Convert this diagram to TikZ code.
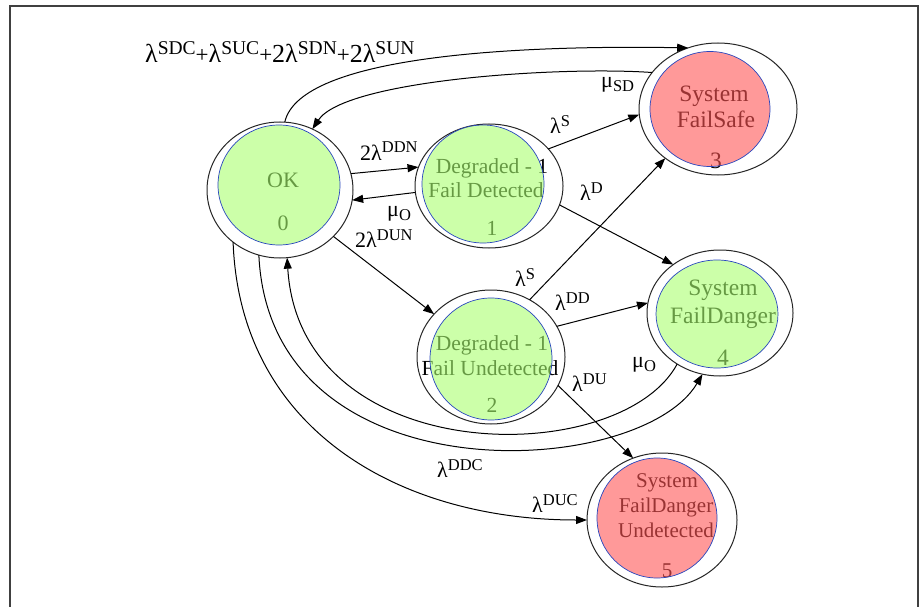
\documentclass[tikz,border=0pt]{standalone}
\usepackage{fontspec}
\setmainfont{Liberation Serif}
\usetikzlibrary{shapes.geometric,arrows.meta}
\definecolor{gfill}{RGB}{170,255,113}
\definecolor{rfill}{RGB}{255,85,85}
\definecolor{ringblue}{RGB}{40,70,190}
\newcommand{\fs}[1]{\fontsize{#1}{#1}\selectfont}
\newcommand{\tb}[1]{{\fs{26}#1}}
\newcommand{\ts}[1]{\raisebox{8pt}{\fs{19.5}#1}}
\newcommand{\tp}{{\fs{23}+}}
\newcommand{\lb}[1]{{\fs{22}#1}}
\newcommand{\ls}[1]{\raisebox{7pt}{\fs{16.5}#1}}
\newcommand{\lsub}[1]{\raisebox{-4pt}{\fs{16.5}#1}}
\begin{document}
\begin{tikzpicture}[x=1pt,y=-1pt,
  outer/.style={ellipse,draw=black!85,line width=1pt,fill=white,inner sep=0pt,outer sep=0pt},
  innerg/.style={ellipse,draw=ringblue,line width=0.7pt,fill=gfill,fill opacity=0.6,inner sep=0pt,outer sep=0pt},
  innerr/.style={ellipse,draw=ringblue,line width=0.7pt,fill=rfill,fill opacity=0.6,inner sep=0pt,outer sep=0pt},
  txt/.style={anchor=base,inner sep=0pt,text=black},
  lbl/.style={anchor=base west,inner sep=0pt,text=black},
  arr/.style={draw=black,line width=1pt,-{Triangle[length=11pt,width=8pt]}},
]
\useasboundingbox (0,0) rectangle (923,607);
\fill[white] (0,0) rectangle (923,607);
\draw[line width=1.6pt,black!75] (10,640) -- (10,6) -- (918,6) -- (918,640);

% node 0 : OK
\node[outer,minimum width=146pt,minimum height=136pt] (ok) at (280,190) {};
\node[txt,font=\fs{22}] (ok-t) at (283,187) {OK};
\node[txt,font=\fs{22}] (ok-n) at (283,230) {0};
\node[innerg,minimum width=122pt,minimum height=120pt] (ok-i) at (279,185) {};

% node 1
\node[outer,minimum width=148pt,minimum height=124pt] (n1) at (489,186) {};
\node[txt,font=\fs{21.5}] (n1-a) at (492,173) {Degraded - 1};
\node[txt,font=\fs{21.5}] (n1-b) at (486,197) {Fail Detected};
\node[txt,font=\fs{21.5}] (n1-n) at (492,235) {1};
\node[innerg,minimum width=122pt,minimum height=118pt] (n1-i) at (483,184) {};

% node 2
\node[outer,minimum width=148pt,minimum height=134pt] (n2) at (491,357) {};
\node[txt,font=\fs{21.5}] (n2-a) at (492,350) {Degraded - 1};
\node[txt,font=\fs{21.5}] (n2-b) at (490,375) {Fail Undetected};
\node[txt,font=\fs{21.5}] (n2-n) at (492,412) {2};
\node[innerg,minimum width=122pt,minimum height=122pt] (n2-i) at (491,359) {};

% node 3
\node[outer,minimum width=158pt,minimum height=132pt] (n3) at (718,109) {};
\node[txt,font=\fs{23.5}] (n3-a) at (714,102) {System};
\node[txt,font=\fs{23.5}] (n3-b) at (716,128) {FailSafe};
\node[txt,font=\fs{23.5}] (n3-n) at (716,168) {3};
\node[innerr,minimum width=120pt,minimum height=115pt] (n3-i) at (710,109) {};

% node 4
\node[outer,minimum width=146pt,minimum height=126pt] (n4) at (720,313) {};
\node[txt,font=\fs{23.5}] (n4-a) at (723,295) {System};
\node[txt,font=\fs{23.5}] (n4-b) at (723,323) {FailDanger};
\node[txt,font=\fs{23.5}] (n4-n) at (723,365) {4};
\node[innerg,minimum width=122pt,minimum height=108pt] (n4-i) at (717,314) {};

% node 5
\node[outer,minimum width=150pt,minimum height=134pt] (n5) at (662,520) {};
\node[txt,font=\fs{21}] (n5-a) at (667,487) {System};
\node[txt,font=\fs{21}] (n5-b) at (666,512) {FailDanger};
\node[txt,font=\fs{21}] (n5-c) at (666,537) {Undetected};
\node[txt,font=\fs{21}] (n5-n) at (667,577) {5};
\node[innerr,minimum width=120pt,minimum height=120pt] (n5-i) at (657,518) {};

% straight connectors
\draw[arr] (ok.13) -- (n1.165);
\draw[arr] (n1.185) -- (ok.-8);
\draw[arr] (ok.-41) -- (n2.143);
\draw[arr] (n1.32) -- (n3.184);
\draw[arr] (n1.-15) -- (n4.134);
\draw[arr] (n2.56) -- (n3.223);
\draw[arr] (n2.25) -- (n4.172);
\draw[arr] (n2.-23) -- (n5.115);

% curved connectors
\draw[arr] (ok.86) .. controls (300,55) and (520,45) .. (n3.116);
\draw[arr] (n3.151) .. controls (560,66) and (345,80) .. (ok.62);
\draw[arr] (n4.230) .. controls (620,470) and (300,470) .. (ok.-84);
\draw[arr] (ok.252) .. controls (270,500) and (640,480) .. (n4.254);
\draw[arr] (ok.228) .. controls (240,430) and (400,520) .. (n5.180);

% labels
\node[lbl] (l-top) at (145,63) {\tb{λ}\ts{SDC}\tp\tb{λ}\ts{SUC}\tp\tb{2λ}\ts{SDN}\tp\tb{2λ}\ts{SUN}};
\node[lbl] (l-musd) at (601,88) {\lb{μ}\lsub{SD}};
\node[lbl] (l-ddn) at (360,160) {\lb{2λ}\ls{DDN}};
\node[lbl] (l-mu1) at (387,216) {\lb{μ}\lsub{O}};
\node[lbl] (l-dun) at (355,247) {\lb{2λ}\ls{DUN}};
\node[lbl] (l-s1) at (550,134) {\lb{λ}\ls{S}};
\node[lbl] (l-d) at (580,200) {\lb{λ}\ls{D}};
\node[lbl] (l-s2) at (515,286) {\lb{λ}\ls{S}};
\node[lbl] (l-dd) at (555,310) {\lb{λ}\ls{DD}};
\node[lbl] (l-du) at (572,391) {\lb{λ}\ls{DU}};
\node[lbl] (l-mu4) at (632,367) {\lb{μ}\lsub{O}};
\node[lbl] (l-ddc) at (437,477) {\lb{λ}\ls{DDC}};
\node[lbl] (l-duc) at (532,512) {\lb{λ}\ls{DUC}};
\end{tikzpicture}
\end{document}
